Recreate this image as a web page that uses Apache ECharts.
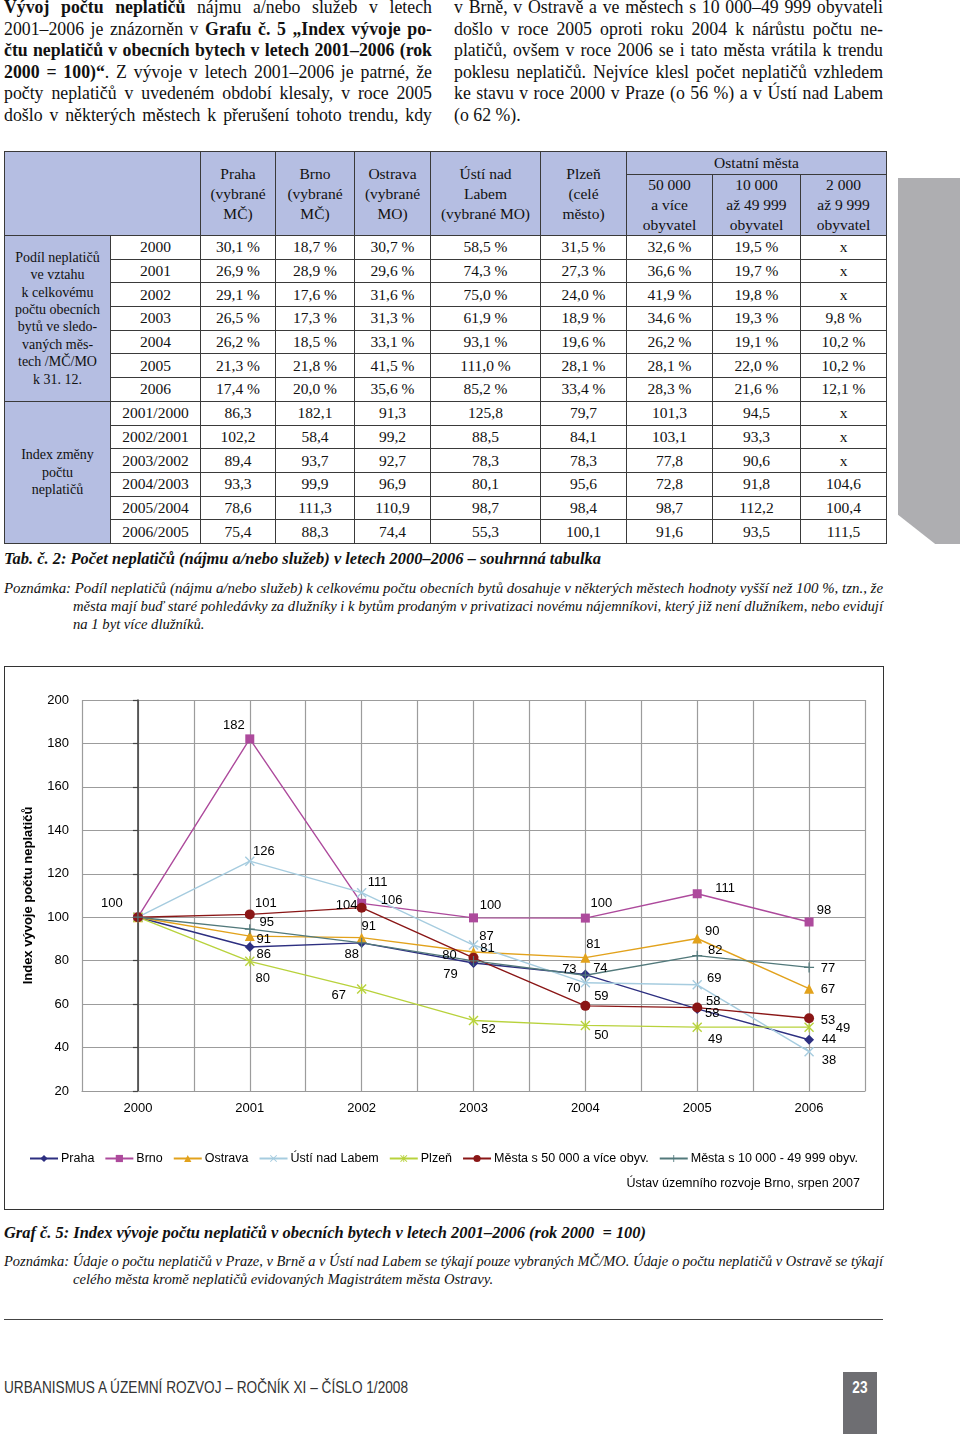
<!DOCTYPE html>
<html><head><meta charset="utf-8">
<script src="https://cdn.jsdelivr.net/npm/echarts@6/dist/echarts.min.js"></script>
<style>
html,body{margin:0;padding:0;background:#fff;}
body{width:960px;height:1434px;position:relative;overflow:hidden;font-family:"Liberation Serif","Times New Roman",serif;color:#111;}
.abs{position:absolute;}
.col{position:absolute;top:-3px;font-size:17.8px;line-height:21.6px;}
.ln{white-space:nowrap;}
.fit{position:absolute;white-space:nowrap;transform-origin:0 50%;display:inline-block;}
table.t{position:absolute;left:4px;top:151px;border-collapse:collapse;table-layout:fixed;font-size:15.5px;}
table.t td{border:1px solid #3a3a3a;padding:0;text-align:center;vertical-align:middle;overflow:hidden;}
table.t td.h{background:#B5BEE2;line-height:20px;}
table.t tr.d{height:23.7px;}
table.t tr.d td{line-height:18px;}
table.t tr.d td.g{background:#B5BEE2;font-size:14px;line-height:17.4px;}
</style></head><body>

<div class="col" id="c1" style="left:4px;width:428px;">
<div class="ln"><b>Vývoj počtu neplatičů</b> nájmu a/nebo služeb v letech</div>
<div class="ln">2001–2006 je znázorněn v <b>Grafu č. 5 „Index vývoje po-</b></div>
<div class="ln"><b>čtu neplatičů v obecních bytech v letech 2001–2006 (rok</b></div>
<div class="ln"><b>2000 = 100)“</b>. Z vývoje v letech 2001–2006 je patrné, že</div>
<div class="ln">počty neplatičů v uvedeném období klesaly, v roce 2005</div>
<div class="ln">došlo v některých městech k přerušení tohoto trendu, kdy</div>
</div>
<div class="col" id="c2" style="left:454px;width:429px;">
<div class="ln">v Brně, v Ostravě a ve městech s 10 000–49 999 obyvateli</div>
<div class="ln">došlo v roce 2005 oproti roku 2004 k nárůstu počtu ne-</div>
<div class="ln">platičů, ovšem v roce 2006 se i tato města vrátila k trendu</div>
<div class="ln">poklesu neplatičů. Nejvíce klesl počet neplatičů vzhledem</div>
<div class="ln">ke stavu v roce 2000 v Praze (o 56 %) a v Ústí nad Labem</div>
<div class="ln nj">(o 62 %).</div>
</div>

<table class="t" id="tbl"></table>
<div class="abs" id="grayblk" style="left:898px;top:178px;width:62px;height:366px;background:#AEAEB1;clip-path:polygon(0 0,100% 0,100% 100%,60% 100%,0 92%);"></div>

<div class="fit" id="tabcap" data-w="597" style="left:4px;top:549px;font-size:17px;font-weight:bold;font-style:italic;">Tab. č. 2: Počet neplatičů (nájmu a/nebo služeb) v letech 2000–2006 – souhrnná tabulka</div>
<div class="fit" id="n1a" data-w="879" style="left:4px;top:580px;font-size:14.5px;font-style:italic;">Poznámka: Podíl neplatičů (nájmu a/nebo služeb) k celkovému počtu obecních bytů dosahuje v některých městech hodnoty vyšší než 100 %, tzn., že</div>
<div class="fit" id="n1b" data-w="810" style="left:73px;top:598px;font-size:14.5px;font-style:italic;">města mají buď staré pohledávky za dlužníky i k bytům prodaným v privatizaci novému nájemníkovi, který již není dlužníkem, nebo evidují</div>
<div class="fit" id="n1c" data-ref="n1b" style="left:73px;top:616px;font-size:14.5px;font-style:italic;">na 1 byt více dlužníků.</div>

<div id="chart" class="abs" style="left:4px;top:666px;width:880px;height:544px;"></div>
<div class="abs" style="left:4px;top:666px;width:880px;height:544px;border:1.5px solid #333;box-sizing:border-box;pointer-events:none;"></div>

<div class="fit" id="gcap" data-w="642" style="left:4px;top:1223px;font-size:17px;font-weight:bold;font-style:italic;">Graf č. 5: Index vývoje počtu neplatičů v obecních bytech v letech 2001–2006 (rok 2000 &nbsp;= 100)</div>
<div class="fit" id="n2a" data-w="879" style="left:4px;top:1253px;font-size:14.5px;font-style:italic;">Poznámka: Údaje o počtu neplatičů v Praze, v Brně a v Ústí nad Labem se týkají pouze vybraných MČ/MO. Údaje o počtu neplatičů v Ostravě se týkají</div>
<div class="fit" id="n2b" data-ref="n1b" style="left:73px;top:1271px;font-size:14.5px;font-style:italic;">celého města kromě neplatičů evidovaných Magistrátem města Ostravy.</div>

<div class="abs" style="left:4px;top:1319px;width:879px;height:1px;background:#444;"></div>
<div class="fit" id="foot" data-w="404" style="left:4px;top:1378px;font-family:'Liberation Sans',Arial,sans-serif;font-size:17px;color:#333;">URBANISMUS A ÚZEMNÍ ROZVOJ – ROČNÍK XI – ČÍSLO 1/2008</div>
<div class="abs" style="left:843px;top:1372px;width:34px;height:62px;background:#6E6E72;color:#fff;font-family:'Liberation Sans',Arial,sans-serif;font-weight:bold;font-size:16px;text-align:center;line-height:32px;"><span style="display:inline-block;transform:scaleX(0.85);">23</span></div>

<script>
// ---------- chart data ----------
const categories = ['2000','2001','2002','2003','2004','2005','2006'];
const yTicks = {min:20, max:200, step:20};
const praha   = [100, 86.3, 88.2, 78.9, 73.6, 57.8, 43.6];
const brno    = [100, 182.1, 106.4, 99.7, 99.6, 110.8, 97.8];
const ostrava = [100, 91.3, 90.6, 84.0, 81.4, 90.2, 67.1];
const usti    = [100, 125.8, 111.3, 87.2, 69.8, 68.9, 38.1];
const plzen   = [100, 79.7, 67.0, 52.48, 50.2, 49.4, 49.4];
const mesta50 = [100, 101.3, 104.4, 81.3, 59.2, 58.4, 53.48];
const mesta10 = [100, 94.5, 88.2, 79.9, 73.3, 82.3, 76.9];
const seriesNames = ['Praha','Brno','Ostrava','Ústí nad Labem','Plzeň','Města s 50 000 a více obyv.','Města s 10 000 - 49 999 obyv.'];

// ---------- table data ----------
const tableCols = ['Praha<br>(vybrané<br>MČ)','Brno<br>(vybrané<br>MČ)','Ostrava<br>(vybrané<br>MO)','Ústí nad<br>Labem<br>(vybrané MO)','Plzeň<br>(celé<br>město)'];
const tableSubCols = ['50 000<br>a více<br>obyvatel','10 000<br>až 49 999<br>obyvatel','2 000<br>až 9 999<br>obyvatel'];
const shareYears = ['2000','2001','2002','2003','2004','2005','2006'];
const shareRows = [
 ['30,1 %','18,7 %','30,7 %','58,5 %','31,5 %','32,6 %','19,5 %','x'],
 ['26,9 %','28,9 %','29,6 %','74,3 %','27,3 %','36,6 %','19,7 %','x'],
 ['29,1 %','17,6 %','31,6 %','75,0 %','24,0 %','41,9 %','19,8 %','x'],
 ['26,5 %','17,3 %','31,3 %','61,9 %','18,9 %','34,6 %','19,3 %','9,8 %'],
 ['26,2 %','18,5 %','33,1 %','93,1 %','19,6 %','26,2 %','19,1 %','10,2 %'],
 ['21,3 %','21,8 %','41,5 %','111,0 %','28,1 %','28,1 %','22,0 %','10,2 %'],
 ['17,4 %','20,0 %','35,6 %','85,2 %','33,4 %','28,3 %','21,6 %','12,1 %']];
const indexYears = ['2001/2000','2002/2001','2003/2002','2004/2003','2005/2004','2006/2005'];
const indexRows = [
 ['86,3','182,1','91,3','125,8','79,7','101,3','94,5','x'],
 ['102,2','58,4','99,2','88,5','84,1','103,1','93,3','x'],
 ['89,4','93,7','92,7','78,3','78,3','77,8','90,6','x'],
 ['93,3','99,9','96,9','80,1','95,6','72,8','91,8','104,6'],
 ['78,6','111,3','110,9','98,7','98,4','98,7','112,2','100,4'],
 ['75,4','88,3','74,4','55,3','100,1','91,6','93,5','111,5']];
const shareLabel = 'Podíl neplatičů<br>ve vztahu<br>k celkovému<br>počtu obecních<br>bytů ve sledo-<br>vaných měs-<br>tech /MČ/MO<br>k 31. 12.';
const indexLabel = 'Index změny<br>počtu<br>neplatičů';

// ---------- build table ----------
(function(){
  const colW = [106,90,75,79,76,110,86,86,88,86];
  let h = '<colgroup>' + colW.map(w=>'<col style="width:'+w+'px">').join('') + '</colgroup>';
  h += '<tr style="height:23px"><td class="h" colspan="2" rowspan="2"></td>' +
       tableCols.map(c=>'<td class="h" rowspan="2">'+c+'</td>').join('') +
       '<td class="h" colspan="3">Ostatní města</td></tr>';
  h += '<tr style="height:61px">' + tableSubCols.map(c=>'<td class="h">'+c+'</td>').join('') + '</tr>';
  shareYears.forEach((y,i)=>{
    h += '<tr class="d">' + (i===0?'<td class="g" rowspan="7">'+shareLabel+'</td>':'') +
         '<td>'+y+'</td>' + shareRows[i].map(v=>'<td>'+v+'</td>').join('') + '</tr>';
  });
  indexYears.forEach((y,i)=>{
    h += '<tr class="d">' + (i===0?'<td class="g" rowspan="6">'+indexLabel+'</td>':'') +
         '<td>'+y+'</td>' + indexRows[i].map(v=>'<td>'+v+'</td>').join('') + '</tr>';
  });
  const t = document.getElementById('tbl');
  t.innerHTML = h;
  t.style.width = colW.reduce((a,b)=>a+b,0)+'px';
})();

// ---------- text fitting ----------
(function(){
  document.querySelectorAll('.col').forEach(col=>{
    const W = parseFloat(col.style.width);
    col.querySelectorAll('.ln').forEach(ln=>{
      ln.style.display='inline-block';
      const nat = ln.getBoundingClientRect().width;
      if (ln.classList.contains('nj')) { ln.style.display='block'; return; }
      if (nat > W) {
        ln.style.transformOrigin='0 0';
        ln.style.transform='scaleX('+(W/nat)+')';
        ln.style.display='block'; ln.style.width=nat+'px';
      } else {
        ln.style.display='block'; ln.style.width=W+'px';
        ln.style.textAlign='justify'; ln.style.textAlignLast='justify';
      }
    });
  });
  const scales = {};
  document.querySelectorAll('.fit[data-w]').forEach(el=>{
    const nat = el.getBoundingClientRect().width;
    const s = parseFloat(el.dataset.w)/nat;
    scales[el.id]=s; el.style.transform='scaleX('+s+')';
  });
  document.querySelectorAll('.fit[data-ref]').forEach(el=>{
    el.style.transform='scaleX('+scales[el.dataset.ref]+')';
  });
})();

// ---------- chart ----------
const SYM_X = 'path://M0,1L1,0L5,4L9,0L10,1L6,5L10,9L9,10L5,6L1,10L0,9L4,5Z';
const SYM_AST = 'path://M0,1L1,0L5,4L9,0L10,1L6,5L10,9L9,10L5,6L1,10L0,9L4,5Z M4.4,0H5.6V10H4.4Z';
const SYM_PLUS = 'path://M4.4,0H5.6V4.4H10V5.6H5.6V10H4.4V5.6H0V4.4H4.4Z';

// label offsets (style only): null = label hidden
const labelOffsets = {
  'Praha':   [[-26,-14],[14,7],[-10,12],[-23,11],[15,-6],[15,5],[20,0]],
  'Brno':    [null,[-16,-13],[30,-3],[17,-12],[16,-15],[28,-5],[15,-12]],
  'Ostrava': [null,[14,3],[7,-11],null,[8,-13],[15,-7],[19,1]],
  'Ústí nad Labem': [null,[14,-10],[16,-10],[13,-9],[-12,6],[17,-6],[20,9]],
  'Plzeň':   [null,[13,17],[-23,7],[15,9],[16,10],[18,12],[34,1]],
  'Města s 50 000 a více obyv.': [null,[16,-11],[-15,-2],[14,-9],[16,-9],[16,-6],[19,2]],
  'Města s 10 000 - 49 999 obyv.': [null,[17,-7],null,[-24,-5],[-16,-6],[18,-5],[19,1]]
};
const styles = [
  {color:'#2D2F80', symbol:'diamond', size:10},
  {color:'#AD4A9C', symbol:'rect', size:9},
  {color:'#E2A21C', symbol:'triangle', size:10},
  {color:'#A6CCDF', symbol:SYM_X, size:10},
  {color:'#B8D23C', symbol:SYM_AST, size:10},
  {color:'#8A1616', symbol:'circle', size:10},
  {color:'#52797B', symbol:SYM_PLUS, size:10}
];
const allValues = [praha, brno, ostrava, usti, plzen, mesta50, mesta10];

const series = allValues.map((vals, si)=>{
  const name = seriesNames[si], st = styles[si], offs = labelOffsets[name];
  return {
    type:'line', name: name, symbol: st.symbol, symbolSize: st.size,
    lineStyle:{color: st.color, width:1.4}, itemStyle:{color: st.color},
    label:{position:'inside', color:'#000', fontSize:13, fontFamily:'Liberation Sans, Arial, sans-serif',
           formatter: p=>String(Math.round(p.value[1]))},
    emphasis:{disabled:true},
    data: vals.map((v,i)=>({value:[i,v], label: offs[i] ? {show:true, offset: offs[i]} : {show:false}}))
  };
});

const chart = echarts.init(document.getElementById('chart'), null, {renderer:'canvas'});
chart.setOption({
  animation:false,
  textStyle:{fontFamily:'Liberation Sans, Arial, sans-serif'},
  grid:{left:78, top:34, width:783, height:391, containLabel:false},
  xAxis:{type:'value', min:-0.5, max:6.5, interval:0.5,
    axisLine:{show:true, lineStyle:{color:'#999', width:1.2}},
    axisTick:{show:false},
    splitLine:{show:true, lineStyle:{color:'#9c9c9c', width:1.2}},
    axisLabel:{color:'#000', fontSize:13, margin:11,
      formatter: v => (Math.abs(v - Math.round(v)) < 1e-6 && v >= 0) ? categories[Math.round(v)] : ''}
  },
  yAxis:{type:'value', min:yTicks.min, max:yTicks.max, interval:yTicks.step,
    name:'Index vývoje počtu neplatičů', nameLocation:'middle', nameGap:47, nameRotate:90,
    nameTextStyle:{fontWeight:'bold', fontSize:13, color:'#000'},
    axisLine:{show:true, lineStyle:{color:'#444', width:1.6}},
    axisTick:{show:true, inside:false, length:5, lineStyle:{color:'#444', width:1.2}},
    splitLine:{show:true, lineStyle:{color:'#9c9c9c', width:1.2}},
    axisLabel:{color:'#000', fontSize:13, margin:13}
  },
  legend:{data:seriesNames, left:20, top:481, itemWidth:28, itemHeight:9, itemGap:10,
    textStyle:{fontSize:12.5, color:'#000', padding:[0,0,0,-2]}},
  graphic:[{type:'text', right:24, top:511, style:{text:'Ústav územního rozvoje Brno, srpen 2007', fontSize:12.5, fill:'#000', fontFamily:'Liberation Sans, Arial, sans-serif'}}],
  series: series
});
</script>
</body></html>
